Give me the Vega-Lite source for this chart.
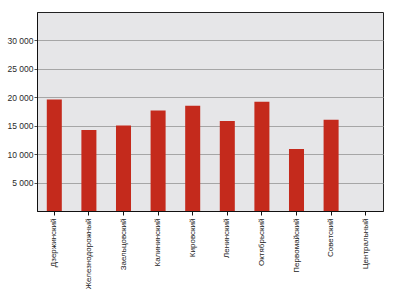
{
  "$schema": "https://vega.github.io/schema/vega-lite/v6.json",
  "autosize": "none",
  "padding": {"left": 37, "top": 12, "right": 11, "bottom": 96},
  "width": 346,
  "height": 199,
  "background": "#ffffff",
  "config": {
    "locale": {"number": {"decimal": ",", "thousands": " ", "grouping": [3], "currency": ["", ""]}},
    "view": {"fill": "#e6e6e8", "stroke": "#222222", "strokeWidth": 1},
    "font": "Liberation Sans"
  },
  "data": {
    "values": [
      {"district": "Дзержинский", "value": 19620},
      {"district": "Железнодорожный", "value": 14260},
      {"district": "Заельцовский", "value": 15020},
      {"district": "Калининский", "value": 17670},
      {"district": "Кировский", "value": 18500},
      {"district": "Ленинский", "value": 15850},
      {"district": "Октябрьский", "value": 19210},
      {"district": "Первомайский", "value": 10900},
      {"district": "Советский", "value": 16030},
      {"district": "Центральный", "value": 0}
    ]
  },
  "mark": {"type": "bar", "color": "#c42a1c"},
  "encoding": {
    "x": {
      "field": "district", "type": "nominal", "sort": null,
      "scale": {"paddingInner": 0.566, "paddingOuter": 0.283},
      "axis": {
        "title": null, "labelAngle": -90, "labelFontSize": 8, "labelColor": "#222222",
        "domainColor": "#111111", "tickColor": "#111111", "tickSize": 4, "labelPadding": 3,
        "labelAlign": "right", "labelBaseline": "middle"
      }
    },
    "y": {
      "field": "value", "type": "quantitative",
      "scale": {"domain": [0, 35000], "nice": false},
      "axis": {
        "title": null, "values": [5000, 10000, 15000, 20000, 25000, 30000], "format": ",d",
        "labelFontSize": 8.5, "labelColor": "#2a2a2a", "gridColor": "#a6a6a6", "gridOpacity": 1,
        "domainColor": "#111111", "tickColor": "#555555", "tickSize": 3, "labelPadding": 1
      }
    }
  }
}
